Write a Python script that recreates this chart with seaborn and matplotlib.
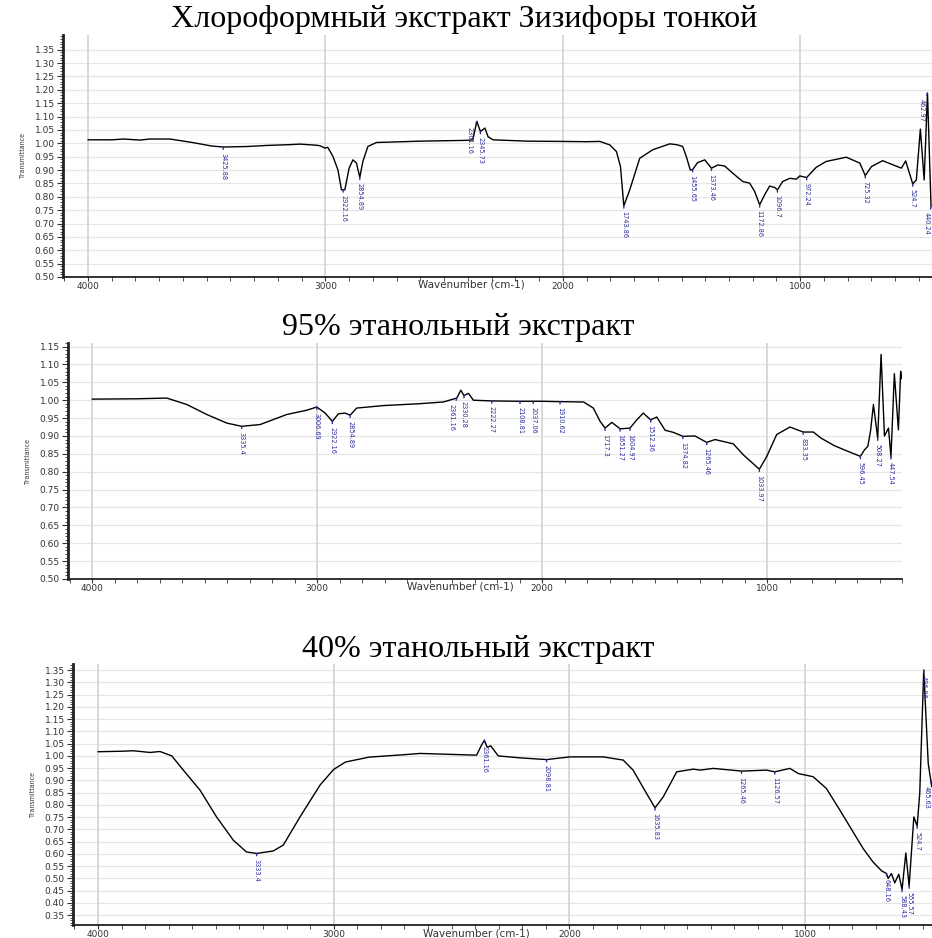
import numpy as np
import pandas as pd
import matplotlib
matplotlib.use("Agg")
import matplotlib.pyplot as plt
import seaborn as sns
from matplotlib.ticker import MultipleLocator

sns.set_theme(style="white")
plt.rcParams['font.family'] = ['DejaVu Sans']

# ---------------- data ----------------
titles = ["Хлороформный экстракт Зизифоры тонкой",
          "95% этанольный экстракт",
          "40% этанольный экстракт"]
x_label = "Wavenumber (cm-1)"
y_label = "Transmittance"
x_tick_values = [4000, 3000, 2000, 1000]

# Spectrum 1: chloroform extract
wn1 = [4000, 3900, 3850, 3780, 3740, 3655, 3560, 3480, 3430, 3330, 3246, 3150, 3107,
       3040, 3023, 3002, 2990, 2968, 2947, 2932, 2918, 2900, 2884, 2869, 2855, 2842,
       2821, 2785, 2600, 2406, 2379, 2362, 2347, 2328, 2315, 2294, 2150, 2000, 1900,
       1844, 1802, 1774, 1757, 1743, 1718, 1676, 1621, 1549, 1516, 1495, 1480, 1463,
       1453, 1432, 1402, 1374, 1347, 1318, 1284, 1242, 1213, 1192, 1171, 1150, 1129,
       1108, 1096, 1074, 1044, 1016, 1002, 973, 933, 891, 806, 749, 726, 700, 653,
       574, 556, 526, 511, 494, 478, 464, 449]
t1 = [1.013, 1.013, 1.016, 1.012, 1.016, 1.016, 1.003, 0.990, 0.986, 0.988, 0.992, 0.995, 0.997,
      0.993, 0.991, 0.982, 0.985, 0.951, 0.900, 0.826, 0.826, 0.907, 0.938, 0.926, 0.873, 0.932,
      0.988, 1.003, 1.008, 1.011, 1.013, 1.082, 1.044, 1.057, 1.025, 1.013, 1.008, 1.007, 1.006,
      1.007, 0.994, 0.969, 0.913, 0.766, 0.826, 0.944, 0.976, 0.998, 0.994, 0.988, 0.951, 0.900,
      0.902, 0.928, 0.938, 0.907, 0.919, 0.915, 0.888, 0.857, 0.851, 0.820, 0.770, 0.807, 0.840,
      0.835, 0.826, 0.857, 0.869, 0.866, 0.878, 0.872, 0.910, 0.932, 0.948, 0.926, 0.879, 0.913, 0.935,
      0.907, 0.934, 0.848, 0.863, 1.053, 0.863, 1.188, 0.763]
peak_wn1 = [3430, 2925, 2855, 2362, 2347, 1743, 1453, 1374, 1171, 1096, 973, 726, 526, 464, 449]
peak_t1 = [0.986, 0.826, 0.873, 1.082, 1.044, 0.766, 0.902, 0.907, 0.770, 0.826, 0.872, 0.879, 0.848, 1.188, 0.763]
peak_lab1 = ["3425.88", "2922.16", "2854.89", "2361.16", "2345.73", "1743.86", "1455.65", "1373.46",
             "1172.86", "1096.7", "972.24", "725.32", "524.7", "462.97", "440.24"]

# Spectrum 2: 95% ethanol extract
wn2 = [4000, 3800, 3668, 3579, 3490, 3401, 3335, 3253, 3135, 3046, 3001, 2964, 2932, 2905,
       2876, 2853, 2824, 2705, 2550, 2439, 2379, 2361, 2347, 2327, 2305, 2223, 2098, 2039,
       2001, 1920, 1815, 1772, 1742, 1720, 1690, 1653, 1609, 1579, 1550, 1517, 1490, 1453,
       1416, 1374, 1320, 1268, 1231, 1150, 1105, 1034, 1001, 957, 898, 839, 794, 760, 701,
       656, 585, 567, 552, 540, 527, 508, 493, 478, 460, 449, 434, 416, 406, 402]
t2 = [1.003, 1.004, 1.006, 0.988, 0.960, 0.936, 0.927, 0.932, 0.960, 0.972, 0.981, 0.964, 0.941, 0.962,
      0.964, 0.958, 0.978, 0.985, 0.990, 0.995, 1.006, 1.028, 1.013, 1.019, 1.000, 0.998, 0.997, 0.997,
      0.997, 0.996, 0.995, 0.978, 0.941, 0.922, 0.938, 0.920, 0.922, 0.945, 0.964, 0.945, 0.953, 0.916,
      0.910, 0.899, 0.900, 0.882, 0.890, 0.878, 0.847, 0.807, 0.843, 0.904, 0.925, 0.911, 0.911, 0.894, 0.873,
      0.861, 0.843, 0.861, 0.871, 0.913, 0.988, 0.894, 1.128, 0.900, 0.922, 0.842, 1.074, 0.917, 1.081, 1.060]
peak_wn2 = [3335, 3001, 2932, 2853, 2379, 2347, 2223, 2098, 2039, 1920, 1720, 1653, 1609, 1517,
            1374, 1268, 1034, 839, 585, 508, 449]
peak_t2 = [0.927, 0.981, 0.941, 0.958, 1.006, 1.013, 0.998, 0.997, 0.997, 0.996, 0.922, 0.920, 0.922, 0.945,
           0.899, 0.882, 0.807, 0.911, 0.843, 0.894, 0.842]
peak_lab2 = ["3335.4", "3006.69", "2922.16", "2854.89", "2361.16", "2330.28", "2222.27", "2108.81",
             "2037.06", "1910.62", "1717.3", "1651.27", "1604.97", "1512.36", "1374.82", "1265.46",
             "1033.97", "833.35", "596.45", "508.27", "447.54"]

# Spectrum 3: 40% ethanol extract
wn3 = [4000, 3900, 3850, 3779, 3737, 3687, 3638, 3567, 3497, 3426, 3370, 3327, 3257, 3214,
       3143, 3058, 3000, 2950, 2850, 2700, 2634, 2394, 2373, 2361, 2349, 2334, 2302, 2210,
       2097, 1998, 1857, 1772, 1730, 1673, 1637, 1602, 1545, 1474, 1446, 1390, 1270, 1164,
       1129, 1065, 1029, 966, 910, 853, 797, 754, 712, 676, 655, 648, 634, 620, 603, 589,
       573, 559, 539, 525, 514, 497, 478, 463]
t3 = [1.017, 1.019, 1.021, 1.014, 1.018, 1.000, 0.942, 0.860, 0.751, 0.656, 0.608, 0.602, 0.612, 0.636,
      0.751, 0.881, 0.945, 0.975, 0.995, 1.005, 1.010, 1.003, 1.044, 1.064, 1.035, 1.041, 1.000, 0.992,
      0.985, 0.996, 0.996, 0.983, 0.942, 0.847, 0.788, 0.833, 0.935, 0.946, 0.942, 0.949, 0.938, 0.942,
      0.935, 0.949, 0.928, 0.915, 0.867, 0.779, 0.690, 0.622, 0.567, 0.531, 0.520, 0.500, 0.520, 0.482,
      0.517, 0.455, 0.604, 0.469, 0.751, 0.714, 0.847, 1.350, 0.969, 0.874]
peak_wn3 = [3327, 2361, 2097, 1637, 1270, 1129, 655, 589, 559, 525, 497, 466]
peak_t3 = [0.602, 1.064, 0.985, 0.788, 0.938, 0.935, 0.520, 0.455, 0.469, 0.714, 1.350, 0.900]
peak_lab3 = ["3333.4", "2361.16", "2098.81", "1635.83", "1265.46", "1126.57", "648.16", "588.43",
             "555.57", "524.7", "496.96", "465.63"]

spectra = [(wn1, t1, peak_wn1, peak_t1, peak_lab1),
           (wn2, t2, peak_wn2, peak_t2, peak_lab2),
           (wn3, t3, peak_wn3, peak_t3, peak_lab3)]

# ---------------- layout / style ----------------
W, H = 932, 938
fig = plt.figure(figsize=(W / 100, H / 100), dpi=100)

# (left, top, right, bottom) in pixels
boxes = [(63, 35, 932, 277), (68, 343, 902, 579), (73, 664, 932, 925)]
xlims = [(4105, 445), (4107, 400), (4106, 462)]
ylims = [(0.50, 1.405), (0.50, 1.16), (0.31, 1.375)]
ytick_ranges = [(0.50, 1.35), (0.50, 1.15), (0.35, 1.35)]
title_pos = [(464, 20), (458, 327), (478, 649)]
title_sizes = [23, 23, 23]
# horizontal label nudges (points) for crowded labels
label_dx = [{"2361.16": -5, "462.97": -4, "440.24": -3},
            {"2361.16": -4},
            {"465.63": -3}]

blue = '#2e2e9e'
narrow = ['Liberation Sans Narrow', 'DejaVu Sans']

for i, (wn, t, pw, pt, pl) in enumerate(spectra):
    l, tp, r, b = boxes[i]
    ax = fig.add_axes([l / W, 1 - b / H, (r - l) / W, (b - tp) / H])
    df = pd.DataFrame({"wn": wn, "T": t})
    sns.lineplot(data=df, x="wn", y="T", ax=ax, color='black', lw=1.0,
                 sort=False, estimator=None)
    ax.set_xlim(*xlims[i])
    ax.set_ylim(*ylims[i])
    lo, hi = ytick_ranges[i]
    yt = np.round(np.arange(lo, hi + 0.001, 0.05), 2)
    ax.set_yticks(yt)
    ax.set_yticklabels([f"{v:.2f}" for v in yt])
    ax.yaxis.set_minor_locator(MultipleLocator(0.01))
    ax.set_xticks(x_tick_values)
    ax.set_xticklabels([str(v) for v in x_tick_values])
    ax.xaxis.set_minor_locator(MultipleLocator(100))

    ax.grid(False)
    for v in yt:
        ax.axhline(v, color='#e6e6e6', lw=0.9, zorder=0)
    for v in x_tick_values:
        ax.axvline(v, color='#d6d6d6', lw=1.3, zorder=0)

    for s in ['top', 'right']:
        ax.spines[s].set_visible(False)
    ax.spines['left'].set_linewidth(2.0)
    ax.spines['left'].set_color('#222222')
    ax.spines['bottom'].set_linewidth(1.3)
    ax.spines['bottom'].set_color('#222222')

    ax.tick_params(axis='y', which='major', direction='out', length=4, width=0.8,
                   labelsize=6.5, pad=2, colors='#333333', left=True)
    ax.tick_params(axis='y', which='minor', direction='out', length=2, width=0.6,
                   colors='#333333', left=True)
    ax.tick_params(axis='x', which='major', direction='out', length=3, width=0.8,
                   labelsize=6.5, pad=0.5, colors='#333333', bottom=True)
    ax.tick_params(axis='x', which='minor', direction='out', length=3, width=0.6,
                   colors='#333333', bottom=True)

    ax.set_xlabel(x_label, fontsize=7.5, color='#333333')
    ax.xaxis.set_label_coords(0.47, -0.012)
    ax.set_ylabel(y_label, fontsize=5, family=narrow, stretch='condensed',
                  color='#333333', labelpad=6)

    for w, tv, lab in zip(pw, pt, pl):
        dx = label_dx[i].get(lab, 0)
        ax.annotate(lab, xy=(w, tv), xytext=(dx, -4), textcoords='offset points',
                    rotation=270, ha='center', va='top', color=blue, fontsize=5.2,
                    family=narrow, stretch='condensed', annotation_clip=False,
                    arrowprops=dict(arrowstyle='-', color=blue, lw=1.0,
                                    shrinkA=0, shrinkB=0))

    tx, ty = title_pos[i]
    fig.text(tx / W, 1 - ty / H, titles[i], ha='center', va='center',
             fontsize=title_sizes[i], family=['Liberation Serif', 'DejaVu Serif'],
             color='black')

fig.savefig("out.png", dpi=100)
